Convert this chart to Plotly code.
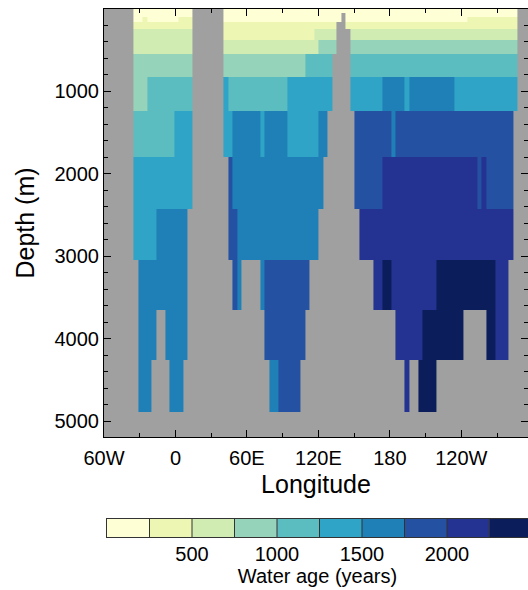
import numpy as np
import plotly.graph_objects as go

# ---------------- data ----------------
# model depth levels (interfaces, m)
depth_edges = [0, 50, 100, 160, 240, 370, 550, 830, 1240, 1800, 2420, 3040, 3650, 4260, 4890]

# regular model longitude grid (degrees east, west edge of first ocean column and spacing)
grid_lon0 = -35.3
grid_dlon = 3.795
n_cols = 85

# water age per level: runs of (first column, last column, age in years); land elsewhere
age_runs = [
    [(0, 12, 120), (20, 84, 120)],                                                      # 0-50 m
    [(0, 12, 120), (20, 45, 120), (47, 84, 120)],                                       # 50-100 m
    [(0, 1, 120), (2, 2, 380), (3, 9, 120), (10, 12, 380), (20, 45, 120),
     (47, 73, 120), (74, 84, 380)],                                                     # 100-160 m
    [(0, 12, 380), (20, 44, 380), (47, 84, 380)],                                       # 160-240 m
    [(0, 12, 620), (20, 39, 380), (40, 44, 620), (48, 84, 620)],                        # 240-370 m
    [(0, 12, 620), (20, 40, 620), (41, 44, 880), (48, 84, 880)],                        # 370-550 m
    [(0, 12, 880), (20, 37, 880), (38, 43, 1130), (48, 84, 1130)],                      # 550-830 m
    [(0, 2, 880), (3, 12, 1130), (20, 20, 1370), (21, 33, 1130), (34, 43, 1370),
     (48, 54, 1370), (55, 59, 1620), (60, 60, 1370), (61, 70, 1620), (71, 84, 1370)],   # 830-1240 m
    [(0, 8, 1130), (9, 12, 1370), (20, 21, 1370), (22, 27, 1620), (28, 28, 1370),
     (29, 33, 1620), (34, 40, 1370), (41, 42, 1620), (49, 56, 1880), (57, 57, 1620),
     (58, 83, 1880)],                                                                   # 1240-1800 m
    [(0, 12, 1370), (21, 21, 1880), (22, 41, 1620), (49, 54, 1880), (55, 75, 2130),
     (76, 76, 1880), (77, 77, 2130), (78, 83, 1880)],                                   # 1800-2420 m
    [(0, 4, 1370), (5, 11, 1620), (21, 22, 1880), (23, 40, 1620), (50, 83, 2130)],      # 2420-3040 m
    [(1, 11, 1620), (22, 22, 1880), (23, 23, 1620), (28, 28, 1620), (29, 38, 1880),
     (53, 54, 2130), (55, 56, 2380), (57, 66, 2130), (67, 79, 2380), (80, 82, 2130)],   # 3040-3650 m
    [(1, 4, 1620), (7, 11, 1620), (29, 37, 1880), (58, 63, 2130), (64, 72, 2380),
     (78, 79, 2380), (80, 82, 2130)],                                                   # 3650-4260 m
    [(1, 3, 1620), (8, 10, 1620), (30, 31, 1620), (32, 36, 1880), (60, 60, 2130),
     (63, 66, 2380)],                                                                   # 4260-4890 m
]

# contour levels / colours
level_edges = [0, 250, 500, 750, 1000, 1250, 1500, 1750, 2000, 2250, 2500]
level_colors = ["#ffffd6", "#eef6b4", "#d1ecb3", "#95d3ba", "#5cbdc1",
                "#2fa4c7", "#1f80b8", "#2451a2", "#243291", "#0b1e5b"]
bar_ages = [125, 375, 625, 875, 1125, 1375, 1625, 1875, 2125, 2375]

x_tickvals = [-60, 0, 60, 120, 180, 240]
x_ticktext = ["60W", "0", "60E", "120E", "180", "120W"]
x_minor = [-30, 30, 90, 150, 210, 270]
y_tickvals = [1000, 2000, 3000, 4000, 5000]
cb_tickvals = [500, 1000, 1500, 2000]

# ---------------- build grid ----------------
lon_edges = grid_lon0 + grid_dlon * np.arange(n_cols + 1)
z = [[None] * n_cols for _ in range(len(depth_edges) - 1)]
for lev, runs in enumerate(age_runs):
    for a, b, v in runs:
        for c in range(a, b + 1):
            z[lev][c] = v

vmin, vmax = level_edges[0], level_edges[-1]
cscale = []
for i, c in enumerate(level_colors):
    cscale.append([(level_edges[i] - vmin) / (vmax - vmin), c])
    cscale.append([(level_edges[i + 1] - vmin) / (vmax - vmin), c])

FONT = "Liberation Sans, Arial, Helvetica, sans-serif"

fig = go.Figure()
fig.add_trace(go.Heatmap(
    x=lon_edges, y=depth_edges, z=z, colorscale=cscale, zmin=vmin, zmax=vmax,
    showscale=False, hoverinfo="skip", xaxis="x", yaxis="y"))

# label bar drawn as its own small axis
fig.add_trace(go.Heatmap(
    x=level_edges, y=[0, 1], z=[bar_ages], colorscale=cscale, zmin=vmin, zmax=vmax,
    showscale=False, hoverinfo="skip", xaxis="x2", yaxis="y2"))
sx, sy = [], []
for e in level_edges[1:-1]:
    sx += [e, e, None]
    sy += [0, 1, None]
fig.add_trace(go.Scatter(x=sx, y=sy, mode="lines", line=dict(color="#333333", width=1),
                         hoverinfo="skip", showlegend=False, xaxis="x2", yaxis="y2"))

W, H = 528, 590
ML, MR, MT, MB = 104, 0, 9, 53
plot_h = H - MT - MB
main_bottom = 1 - (437 - MT) / plot_h
cb_top = (590 - MB - 519) / plot_h
plot_w = W - ML - MR
cb_left = (107 - ML) / plot_w
cb_ppy = 425 / 2500
cb_max = plot_w * (1 - cb_left) / cb_ppy

fig.update_layout(
    width=W, height=H, autosize=False,
    margin=dict(l=ML, r=MR, t=MT, b=MB, pad=0),
    paper_bgcolor="white", plot_bgcolor="#a0a0a0",
    font=dict(family=FONT, color="black", size=20),
    showlegend=False,
    xaxis=dict(domain=[0, 1], anchor="y", range=[-60, 296],
               tickmode="array", tickvals=x_tickvals, ticktext=x_ticktext,
               ticks="inside", ticklen=7, tickwidth=1, tickcolor="black",
               minor=dict(tickmode="array", tickvals=x_minor, ticks="inside", ticklen=4,
                          tickwidth=1, tickcolor="black"),
               showline=True, mirror="allticks", linecolor="black", linewidth=1,
               showgrid=False, zeroline=False, tickfont=dict(size=20),
               ticklabelstandoff=3,
               title=dict(text="Longitude", font=dict(size=25), standoff=7)),
    yaxis=dict(domain=[main_bottom, 1], anchor="x", range=[5190, 0],
               tickmode="array", tickvals=y_tickvals,
               ticks="inside", ticklen=7, tickwidth=1, tickcolor="black",
               minor=dict(dtick=200, tick0=0, ticks="inside", ticklen=4,
                          tickwidth=1, tickcolor="black"),
               showline=True, mirror="allticks", linecolor="black", linewidth=1,
               showgrid=False, zeroline=False, tickfont=dict(size=20),
               title=dict(text="Depth (m)", font=dict(size=25), standoff=12)),
    xaxis2=dict(domain=[cb_left, 1], anchor="y2", range=[0, cb_max],
                tickmode="array", tickvals=cb_tickvals, ticks="",
                showline=True, mirror=True, linecolor="#333333", linewidth=1,
                showgrid=False, zeroline=False, tickfont=dict(size=20),
                ticklabelstandoff=-1,
                title=dict(text="Water age (years)", font=dict(size=20), standoff=0)),
    yaxis2=dict(domain=[0, cb_top], anchor="x2", range=[0, 1],
                showticklabels=False, ticks="", showline=True, mirror=True,
                linecolor="#333333", linewidth=1, showgrid=False, zeroline=False),
)

fig.write_html("out.html")
